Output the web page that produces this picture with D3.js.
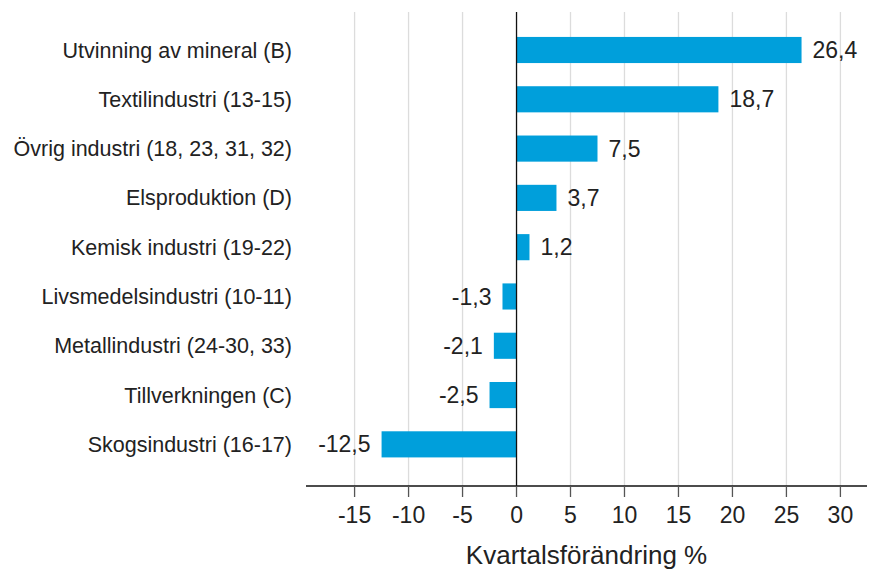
<!DOCTYPE html>
<html lang="sv">
<head>
<meta charset="UTF-8">
<title>Kvartalsförändring</title>
<script src="https://cdn.jsdelivr.net/npm/d3@7/dist/d3.min.js"></script>
<style>
  body { margin: 0; background: #fff; }
  text { font-family: "Liberation Sans", Arial, sans-serif; fill: #222; }
</style>
</head>
<body>
<div id="chart"></div>
<script>
const categories = [
  "Utvinning av mineral (B)",
  "Textilindustri (13-15)",
  "Övrig industri (18, 23, 31, 32)",
  "Elsproduktion (D)",
  "Kemisk industri (19-22)",
  "Livsmedelsindustri (10-11)",
  "Metallindustri (24-30, 33)",
  "Tillverkningen (C)",
  "Skogsindustri (16-17)"
];
const values = [26.4, 18.7, 7.5, 3.7, 1.2, -1.3, -2.1, -2.5, -12.5];
const xTicks = [-15, -10, -5, 0, 5, 10, 15, 20, 25, 30];
const xTitle = "Kvartalsförändring %";

const width = 869, height = 573;
const svg = d3.select("#chart").append("svg")
  .attr("width", width).attr("height", height);

const x = d3.scaleLinear().domain([-19.5, 32]).range([306, 862]);
const y = d3.scaleBand().domain(categories).range([25.35, 469])
  .paddingInner(0.47).paddingOuter(0.235);
const axisY = 486, gridTop = 12;

const sv = d3.formatLocale({decimal: ",", thousands: " ", grouping: [3], currency: ["", ""], minus: "-"});
const fmt = sv.format(".1f");
const fmtTick = sv.format("d");

// gridlines
svg.append("g").selectAll("line")
  .data(xTicks.filter(d => d !== 0))
  .enter().append("line")
  .attr("x1", d => x(d)).attr("x2", d => x(d))
  .attr("y1", gridTop).attr("y2", axisY)
  .attr("stroke", "#dcdcdc").attr("stroke-width", 1.3);

// bars
svg.append("g").selectAll("rect")
  .data(values)
  .enter().append("rect")
  .attr("x", d => x(Math.min(0, d)))
  .attr("y", (d, i) => y(categories[i]))
  .attr("width", d => Math.abs(x(d) - x(0)))
  .attr("height", y.bandwidth())
  .attr("fill", "#009fdb");

// zero line
svg.append("line")
  .attr("x1", x(0)).attr("x2", x(0))
  .attr("y1", gridTop).attr("y2", axisY)
  .attr("stroke", "#111").attr("stroke-width", 1.3);

// x axis line + ticks
svg.append("line")
  .attr("x1", 306).attr("x2", 867)
  .attr("y1", axisY).attr("y2", axisY)
  .attr("stroke", "#111").attr("stroke-width", 1.3);
svg.append("g").selectAll("line")
  .data(xTicks)
  .enter().append("line")
  .attr("x1", d => x(d)).attr("x2", d => x(d))
  .attr("y1", axisY).attr("y2", axisY + 11)
  .attr("stroke", "#555").attr("stroke-width", 1.3);

svg.append("g").selectAll("text")
  .data(xTicks)
  .enter().append("text")
  .attr("x", d => x(d))
  .attr("y", axisY + 37)
  .attr("text-anchor", "middle")
  .style("font-size", "23px")
  .text(d => fmtTick(d));

svg.append("text")
  .attr("x", x(0) + 70)
  .attr("y", axisY + 78)
  .attr("text-anchor", "middle")
  .style("font-size", "26px")
  .text(xTitle);

// category labels
svg.append("g").selectAll("text")
  .data(categories)
  .enter().append("text")
  .attr("x", 292)
  .attr("y", d => y(d) + y.bandwidth() / 2)
  .attr("text-anchor", "end")
  .attr("dy", "0.35em")
  .style("font-size", "21.5px")
  .text(d => d);

// value labels
svg.append("g").selectAll("text")
  .data(values)
  .enter().append("text")
  .attr("x", d => d >= 0 ? x(d) + 11 : x(d) - 11)
  .attr("y", (d, i) => y(categories[i]) + y.bandwidth() / 2)
  .attr("text-anchor", d => d >= 0 ? "start" : "end")
  .attr("dy", "0.35em")
  .style("font-size", "23px")
  .text(d => fmt(d));
</script>
</body>
</html>
